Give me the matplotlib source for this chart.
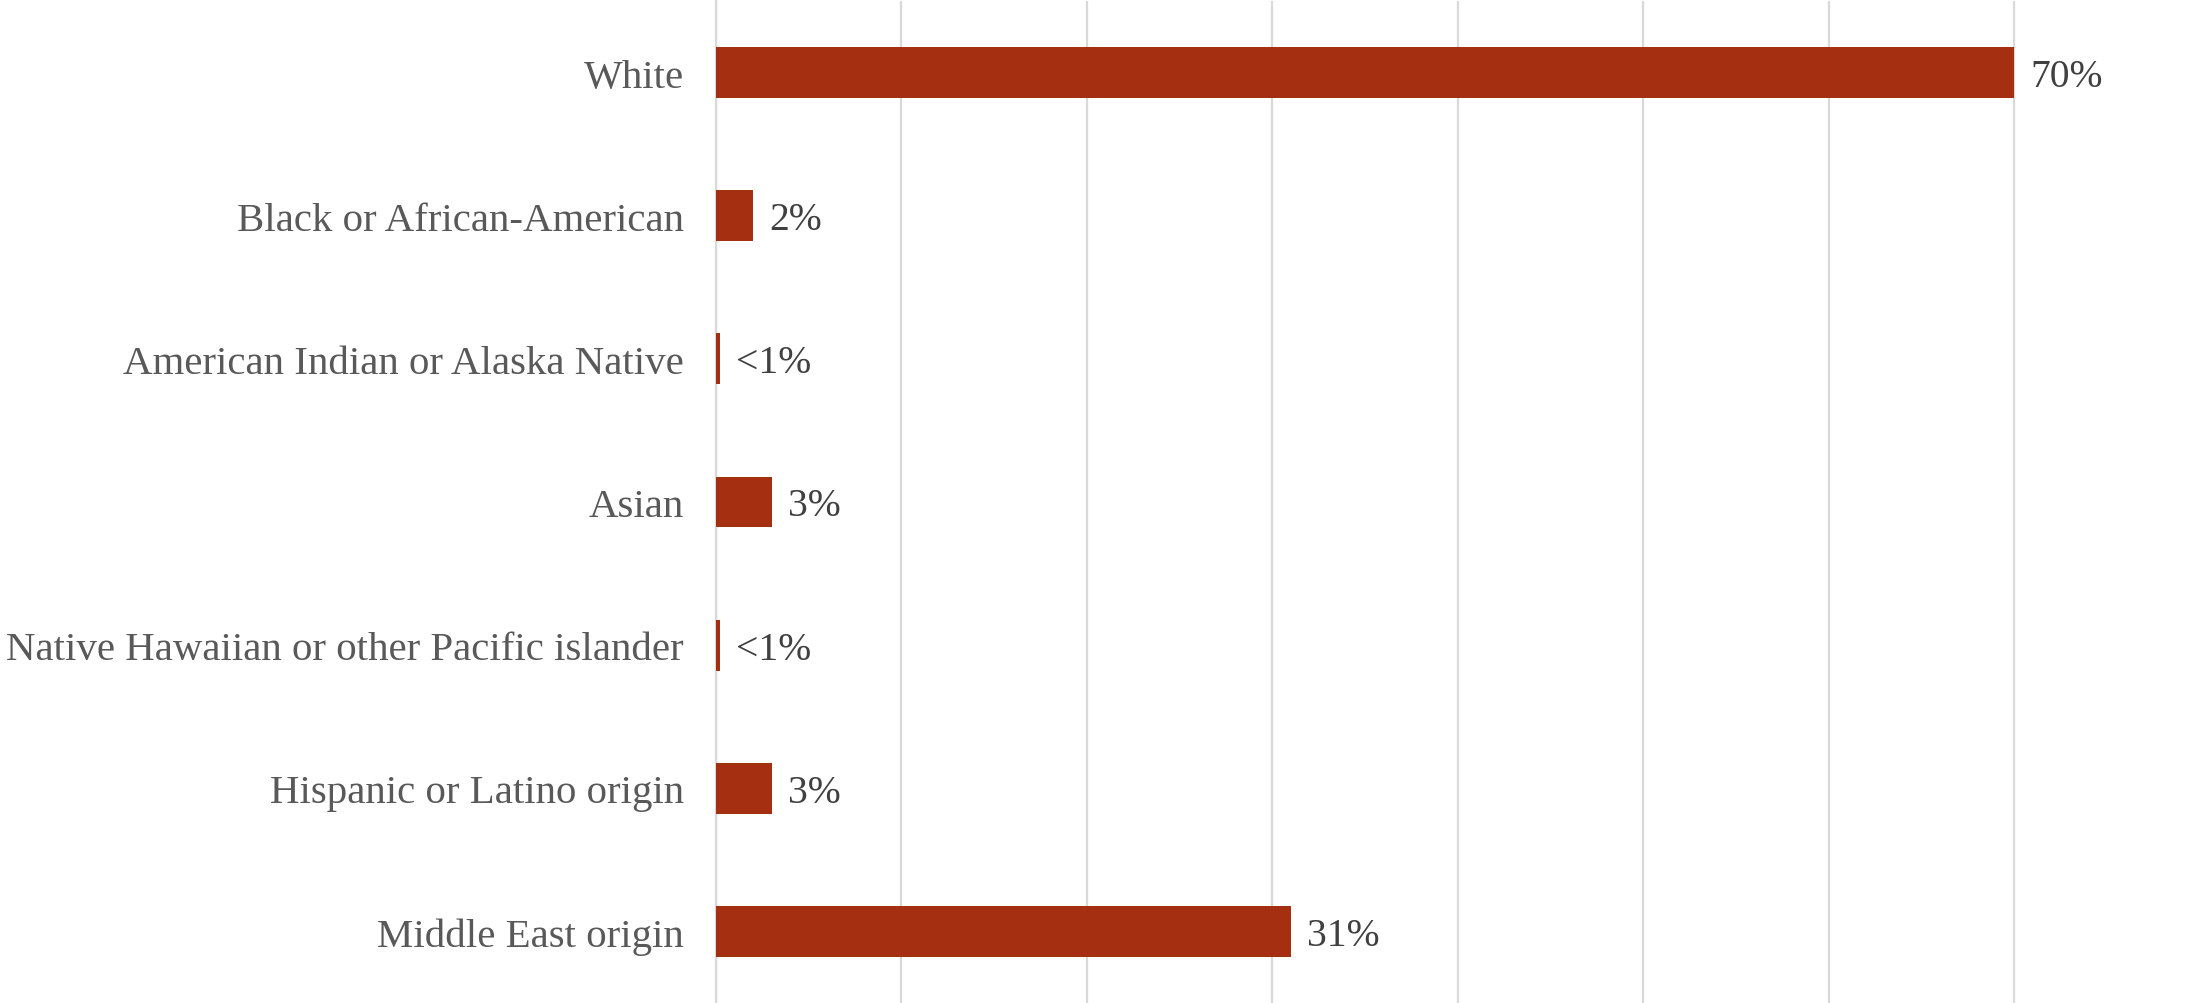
import matplotlib
matplotlib.use("Agg")
import matplotlib.pyplot as plt

categories = [
    "White",
    "Black or African-American",
    "American Indian or Alaska Native",
    "Asian",
    "Native Hawaiian or other Pacific islander",
    "Hispanic or Latino origin",
    "Middle East origin",
]
values = [70, 2, 0.2, 3, 0.2, 3, 31]
value_labels = ["70%", "2%", "<1%", "3%", "<1%", "3%", "31%"]
grid_ticks = [0, 10, 20, 30, 40, 50, 60, 70]

W, H = 2196, 1004
fig = plt.figure(figsize=(W / 100, H / 100), dpi=100)
ax = fig.add_axes([716 / W, 0, 1 - 716 / W, 1002 / H])

bar_color = "#A52F11"
ypos = list(range(len(categories)))
ax.barh(ypos, values, height=0.355, color=bar_color, zorder=3)

ax.set_xlim(0, 79.8)
ax.set_ylim(len(categories) - 0.5, -0.5)
ax.set_xticks(grid_ticks)
ax.xaxis.grid(True, color="#D9D9D9", linewidth=1.6, zorder=0)
ax.tick_params(axis="x", length=0, labelbottom=False)
ax.tick_params(axis="y", length=0, pad=23)
ax.set_yticks(ypos)
ax.set_yticklabels(categories, fontfamily="Liberation Serif", fontsize=29.4, color="#595959")
for s in ["top", "right", "bottom"]:
    ax.spines[s].set_visible(False)
ax.spines["left"].set_color("#D9D9D9")
ax.spines["left"].set_linewidth(1.6)

for y, v, lab in zip(ypos, values, value_labels):
    ax.annotate(lab, (v, y), xytext=(16, -4), textcoords="offset pixels",
                va="center", ha="left", fontfamily="Liberation Serif",
                fontsize=28.5, color="#404040")

fig.savefig("out.png", dpi=100, facecolor="white")
